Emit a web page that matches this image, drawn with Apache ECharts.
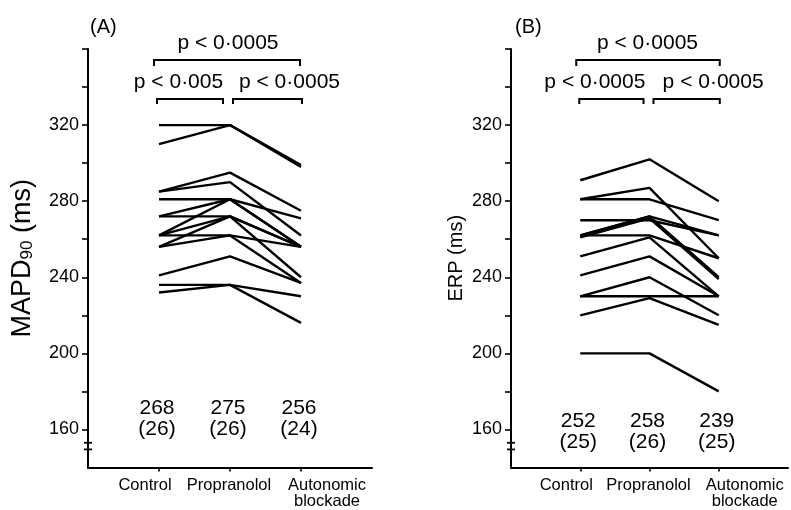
<!DOCTYPE html>
<html><head><meta charset="utf-8">
<script src="https://cdn.jsdelivr.net/npm/echarts@6/dist/echarts.min.js"></script>
<style>html,body{margin:0;padding:0;background:#fff}#c{width:791px;height:510px}</style>
</head><body><div id="c"></div>
<script>
// ---- data ----
const categories = ['L', 'Control', 'Propranolol', 'Autonomic', 'R'];
const xLabels = ['Control', 'Propranolol', 'Autonomic\nblockade'];
const yTickValues = [160, 180, 200, 220, 240, 260, 280, 300, 320, 340, 360];
const yLabelValues = [160, 200, 240, 280, 320];
// each row: [Control, Propranolol, Autonomic blockade]
const mapdLines = [
  [320, 320, 299], [310, 320, 298], [285, 295, 275], [285, 290, 262],
  [281, 281, 271], [272, 281, 256], [262, 281, 256], [272, 272, 256],
  [262, 272, 240], [262, 262, 256], [256, 262, 237], [256, 272, 256],
  [241, 251, 237], [236, 236, 230], [232, 236, 216]
];
const erpLines = [
  [291, 302, 280], [281, 287, 250], [281, 281, 270], [270, 270, 262],
  [262, 272, 240], [261, 271, 239], [262, 262, 250], [251, 261, 230],
  [241, 251, 230], [230, 240, 220], [230, 230, 230], [220, 229, 215],
  [200, 200, 180], [262, 272, 262]
];
const mapdMeans = ['268', '275', '256'];
const mapdCounts = ['(26)', '(26)', '(24)'];
const erpMeans = ['252', '258', '239'];
const erpCounts = ['(25)', '(26)', '(25)'];
const pTextsA = ['p < 0·0005', 'p < 0·005', 'p < 0·0005'];
const pTextsB = ['p < 0·0005', 'p < 0·0005', 'p < 0·0005'];
const panelTitles = ['(A)', '(B)'];

// ---- chart ----
const FONT = '"Liberation Sans", Arial, Helvetica, sans-serif';
const chart = echarts.init(document.getElementById('c'), null, {renderer: 'canvas'});

function xAxisDef(gi) {
  return {
    type: 'category', gridIndex: gi, data: categories, boundaryGap: false,
    axisLine: {lineStyle: {color: '#000', width: 2}},
    axisTick: {show: true, length: 4, interval: (i) => i >= 1 && i <= 3, lineStyle: {color: '#000', width: 1.6}},
    axisLabel: {
      interval: 0, margin: 10, color: '#000', fontFamily: FONT, fontSize: 16.5, lineHeight: 16,
      formatter: (v, i) => {
        if (i === 1) return '{c|' + xLabels[0] + '}';
        if (i === 2) return '{p|' + xLabels[1] + '}';
        if (i === 3) return xLabels[2].split('\n').map(s => '{a|' + s + '}').join('\n');
        return '';
      },
      rich: {
        c: {fontFamily: FONT, fontSize: 16.5, color: '#000', padding: [0, 28, 0, 0]},
        p: {fontFamily: FONT, fontSize: 16.5, color: '#000', padding: [0, 2, 0, 0]},
        a: {fontFamily: FONT, fontSize: 16.5, color: '#000', lineHeight: 16, padding: [0, 0, 0, 52]}
      }
    },
    splitLine: {show: false}
  };
}
function yAxisDef(gi, name, rich, gap, nsize) {
  return {
    type: 'value', gridIndex: gi, min: 140, max: 360, interval: 20,
    name: name, nameLocation: 'middle', nameRotate: 90, nameGap: gap,
    nameTextStyle: {color: '#000', fontFamily: FONT, fontSize: nsize, rich: rich},
    axisLine: {show: true, lineStyle: {color: '#000', width: 2}},
    axisTick: {show: true, length: 6, customValues: yTickValues, lineStyle: {color: '#000', width: 1.6}},
    axisLabel: {customValues: yLabelValues, color: '#000', fontFamily: FONT, fontSize: 18, margin: 9},
    splitLine: {show: false}
  };
}

const series = [];
mapdLines.forEach(r => series.push({
  type: 'line', xAxisIndex: 0, yAxisIndex: 0, symbol: 'none', silent: true, animation: false,
  lineStyle: {color: '#000', width: 2.4}, data: r.map((v, i) => [i + 1, v])
}));
erpLines.forEach(r => series.push({
  type: 'line', xAxisIndex: 1, yAxisIndex: 1, symbol: 'none', silent: true, animation: false,
  lineStyle: {color: '#000', width: 2.4}, data: r.map((v, i) => [i + 1, v])
}));

chart.setOption({
  backgroundColor: '#fff',
  animation: false,
  grid: [
    {left: 88, top: 49, width: 284, height: 420},
    {left: 511, top: 49, width: 282, height: 420}
  ],
  xAxis: [xAxisDef(0), xAxisDef(1)],
  yAxis: [
    yAxisDef(0, '{a|MAPD}{s|90}{a| (ms)}', {
      a: {fontFamily: FONT, fontSize: 27, color: '#000'},
      s: {fontFamily: FONT, fontSize: 17, color: '#000', verticalAlign: 'bottom', padding: [10, 0, 0, 0]}
    }, 52, 27),
    yAxisDef(1, 'ERP (ms)', null, 45, 20)
  ],
  series: series
});

// ---- annotations anchored to the axes ----
function px(gi, cat, val) { return chart.convertToPixel({gridIndex: gi}, [cat, val]); }
const g = [];
function txt(x, y, s, size, align) {
  g.push({type: 'text', x: x, y: y, silent: true,
    style: {text: s, fill: '#000', font: size + 'px ' + FONT, align: align || 'center', verticalAlign: 'middle'}});
}
function bracket(x1, x2, y, d) {
  g.push({type: 'polyline', silent: true,
    shape: {points: [[x1, y + d], [x1, y], [x2, y], [x2, y + d]]},
    style: {stroke: '#000', lineWidth: 2, fill: null}});
}
function panel(gi, means, counts, pTexts, title, meanY, cfg) {
  const c1 = px(gi, 1, 300)[0], c2 = px(gi, 2, 300)[0], c3 = px(gi, 3, 300)[0];
  const ax = px(gi, 0, 300)[0];
  txt(ax + cfg.titleDx, 27, title, 20, 'left');
  bracket(c1 + cfg.top[0], c3 + cfg.top[1], 60, 6);
  txt((c1 + c3) / 2 + cfg.topTextDx, 43, pTexts[0], 21);
  bracket(c1 + cfg.b1[0], c2 + cfg.b1[1], 99, 5);
  bracket(c2 + cfg.b2[0], c3 + cfg.b2[1], 99, 5);
  txt(cfg.t1x(c1, c2), 82, pTexts[1], 21);
  txt(cfg.t2x(c2, c3), 82, pTexts[2], 21);
  [c1, c2, c3].forEach((cx, i) => {
    txt(cx - 2, meanY, means[i], 21);
    txt(cx - 2, meanY + 21, counts[i], 21);
  });
  const yb1 = px(gi, 0, 153)[1], yb2 = px(gi, 0, 149.5)[1];
  g.push({type: 'rect', silent: true, shape: {x: ax - 3, y: yb1, width: 6, height: yb2 - yb1}, style: {fill: '#fff'}});
  g.push({type: 'line', silent: true, shape: {x1: ax - 4, y1: yb1, x2: ax + 4, y2: yb1}, style: {stroke: '#000', lineWidth: 1.8}});
  g.push({type: 'line', silent: true, shape: {x1: ax - 4, y1: yb2, x2: ax + 4, y2: yb2}, style: {stroke: '#000', lineWidth: 1.8}});
}
panel(0, mapdMeans, mapdCounts, pTextsA, panelTitles[0], 408, {
  titleDx: 2, top: [-5, -1], topTextDx: -2, b1: [-2, -7], b2: [3, 1],
  t1x: (a, b) => (a + b) / 2 - 16, t2x: (a, b) => (a + b) / 2 + 24
});
panel(1, erpMeans, erpCounts, pTextsB, panelTitles[1], 421, {
  titleDx: 4, top: [-4, 1], topTextDx: -2, b1: [-1, -6], b2: [4, 1],
  t1x: (a, b) => (a + b) / 2 - 20, t2x: (a, b) => (a + b) / 2 + 29
});
chart.setOption({graphic: g});
</script>
</body></html>
